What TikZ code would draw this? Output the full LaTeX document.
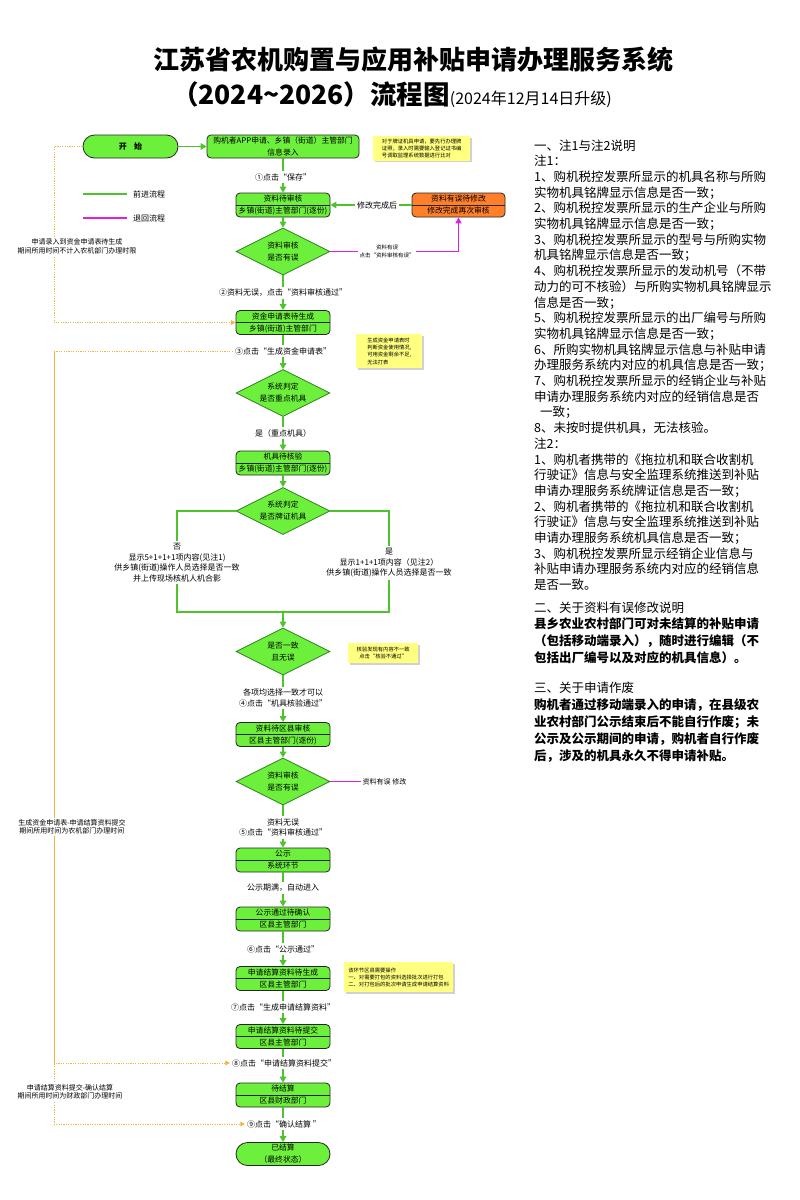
\documentclass[tikz,border=0pt]{standalone}
\usepackage{fontspec}
\setmainfont{Noto Sans CJK SC}
\usetikzlibrary{shapes.geometric,arrows.meta,calc,shadows}
\definecolor{nfill}{HTML}{6CF03C}
\definecolor{dgreen}{HTML}{2F7D1F}
\definecolor{fwdc}{HTML}{4DC42B}
\definecolor{magc}{HTML}{E020E0}
\definecolor{orgc}{HTML}{FF7F2A}
\definecolor{notec}{HTML}{FFFF80}
\definecolor{dotc}{HTML}{F4B23E}
\begin{document}
\begin{tikzpicture}[x=1pt,y=-1pt,
  box/.style={draw=black!85, line width=0.8pt, fill=nfill, rounded corners=4pt, minimum width=94pt, minimum height=24pt, inner sep=0pt, align=center, font=\fontsize{7.8}{12}\selectfont},
  pill/.style={box, rounded corners=11.5pt, minimum height=23pt},
  dia/.style={diamond, aspect=2, draw=dgreen, line width=0.8pt, fill=nfill, minimum width=94pt, minimum height=47pt, inner sep=0pt, align=center, font=\fontsize{7.8}{12}\selectfont},
  lab/.style={font=\fontsize{8}{10.5}\selectfont, align=center, inner sep=2pt},
  slab/.style={font=\fontsize{7}{8.5}\selectfont, align=center, inner sep=1.5pt},
  tiny/.style={font=\fontsize{5.5}{8.5}\selectfont, align=center, inner sep=1.5pt},
  note/.style={fill=notec, anchor=north west, inner sep=2.5pt, align=left, font=\fontsize{5.3}{7.2}\selectfont, drop shadow={shadow xshift=1.5pt, shadow yshift=-1.5pt, fill=black!18, opacity=1}},
  fwd/.style={draw=fwdc, line width=1.5pt, -{Triangle[width=6.5pt,length=6pt]}},
  fwdline/.style={draw=fwdc, line width=1.5pt},
  back/.style={draw=magc, line width=1.2pt, -{Triangle[width=6pt,length=6pt]}},
  backline/.style={draw=magc, line width=1.2pt},
  dot/.style={draw=dotc, line width=0.7pt, dash pattern=on 1.2pt off 1.2pt},
  dotarr/.style={dot, -{Triangle[width=4.5pt,length=4.5pt]}},
  rt/.style={font=\fontsize{12.5}{15}\selectfont, inner sep=0pt, anchor=base west},
  rtb/.style={rt, font=\fontsize{12.5}{15}\selectfont\bfseries}
]
\useasboundingbox (0,0) rectangle (800,1200);
\fill[white] (0,0) rectangle (800,1200);

% title
\node[font=\fontsize{26}{30}\selectfont\bfseries, inner sep=0pt] (title1) at (413,60) {江苏省农机购置与应用补贴申请办理服务系统};
\node[font=\fontsize{26.5}{30}\selectfont\bfseries, inner sep=0pt] (title2) at (392,95) {（2024\textasciitilde 2026）流程图{\fontsize{16}{18}\selectfont\mdseries (2024年12月14日升级)}};

% legend
\coordinate (lga) at (83,194); \coordinate (lgb) at (127,194);
\draw[fwdline] (lga) -- (lgb);
\node[lab, anchor=west] (lgt1) at (131,194) {前进流程};
\coordinate (lgc) at (83,218); \coordinate (lgd) at (127,218);
\draw[backline] (lgc) -- (lgd);
\node[lab, anchor=west] (lgt2) at (131,218) {退回流程};

% flow nodes
\node[pill, minimum width=95pt, font=\fontsize{8}{12}\selectfont\bfseries] (start) at (130.5,146.5) {开\hspace{0.9em}始};
\node[box, minimum width=152pt, minimum height=23pt] (b1) at (283,146.5) {购机者APP申请、乡镇（街道）主管部门\\信息录入};
\node[note, minimum width=97pt, minimum height=22pt] (n1) at (373,136) {对于牌证机具申请，要先行办理牌\\证照，录入时需要输入登记证书编\\号调取监理系统数据进行比对};

\node[box] (b2) at (283,205) {资料待审核\\乡镇(街道)主管部门(逐份)};
\draw[black!85, line width=0.8pt] (b2.west) -- (b2.east);
\node[box, fill=orgc, minimum width=93pt] (o1) at (458.5,205) {资料有误待修改\\修改完成再次审核};
\draw[black!85, line width=0.8pt] (o1.west) -- (o1.east);

\node[dia] (d1) at (283,251.5) {资料审核\\是否有误};

\node[box] (b3) at (283,322.5) {资金申请表待生成\\乡镇(街道)主管部门};
\draw[black!85, line width=0.8pt] (b3.west) -- (b3.east);
\node[note, minimum width=66pt, minimum height=34pt] (n2) at (356,334) {生成资金申请表时\\判断资金使用情况,\\可用资金剩余不足,\\无法打表};

\node[dia] (d2) at (283,393) {系统判定\\是否重点机具};
\node[box] (b4) at (283,463) {机具待核验\\乡镇(街道)主管部门(逐份)};
\draw[black!85, line width=0.8pt] (b4.west) -- (b4.east);
\node[dia] (d3) at (283,511) {系统判定\\是否牌证机具};
\node[dia] (d4) at (283,651.5) {是否一致\\且无误};
\node[note, minimum width=70pt, minimum height=20pt, align=center] (n3) at (348,643) {核验发现有内容不一致\\点击“核验不通过”};

\node[box] (b5) at (283,734.5) {资料待区县审核\\区县主管部门(逐份)};
\draw[black!85, line width=0.8pt] (b5.west) -- (b5.east);
\node[dia] (d5) at (283,781.5) {资料审核\\是否有误};
\node[box] (b6) at (283,860) {公示\\系统环节};
\draw[black!85, line width=0.8pt] (b6.west) -- (b6.east);
\node[box] (b7) at (283,919) {公示通过待确认\\区县主管部门};
\draw[black!85, line width=0.8pt] (b7.west) -- (b7.east);
\node[box] (b8) at (283,978.5) {申请结算资料待生成\\区县主管部门};
\draw[black!85, line width=0.8pt] (b8.west) -- (b8.east);
\node[note, minimum width=109pt, minimum height=30pt] (n4) at (344,962) {该环节区县需要操作\\一、对需要打包的资料选择批次进行打包\\二、对打包后的批次申请生成申请结算资料};
\node[box] (b9) at (283,1036.5) {申请结算资料待提交\\区县主管部门};
\draw[black!85, line width=0.8pt] (b9.west) -- (b9.east);
\node[box] (b10) at (283,1095) {待结算\\区县财政部门};
\draw[black!85, line width=0.8pt] (b10.west) -- (b10.east);
\node[pill, minimum width=94pt] (end) at (283,1154) {已结算\\（最终状态）};

% labels
\node[lab] (l1) at (283,177) {①点击“保存”};
\node[lab] (l2) at (283,293) {②资料无误，点击“资料审核通过”};
\node[lab] (l3) at (283,351) {③点击“生成资金申请表”};
\node[lab] (l4) at (283,433) {是（重点机具）};
\node[lab] (lL) at (177,562.5) {否\\显示5+1+1+1项内容(见注1)\\供乡镇(街道)操作人员选择是否一致\\并上传现场核机人机合影};
\node[lab] (lR) at (389,563) {是\\显示1+1+1项内容（见注2）\\供乡镇(街道)操作人员选择是否一致};
\node[lab] (l5) at (283,698) {各项均选择一致才可以\\④点击“机具核验通过”};
\node[lab] (l6) at (283,827.5) {资料无误\\⑤点击“资料审核通过”};
\node[lab] (l7) at (283,888) {公示期满，自动进入};
\node[lab] (l8) at (283,949) {⑥点击“公示通过”};
\node[lab] (l9) at (283,1007) {⑦点击“生成申请结算资料”};
\node[lab] (l10) at (284,1063) {⑧点击“申请结算资料提交”};
\node[lab] (l11) at (284,1124) {⑨点击“确认结算 ”};
\node[lab] (lg) at (377,205) {修改完成后};
\node[tiny] (lm) at (387,251.5) {资料有误\\点击“资料审核有误”};
\node[slab, anchor=west] (lm2) at (361,781.5) {资料有误 修改};

% forward connectors
\draw[fwd] (start.east) -- (b1.west);
\draw[fwd] (b1.south) -- (l1.north) (l1.south) -- (b2.north);
\draw[fwd] (o1.west) -- (lg.east) (lg.west) -- (b2.east);
\draw[fwd] (b2.south) -- (d1.north);
\draw[fwd] (d1.south) -- (l2.north) (l2.south) -- (b3.north);
\draw[fwd] (b3.south) -- (l3.north) (l3.south) -- (d2.north);
\draw[fwd] (d2.south) -- (l4.north) (l4.south) -- (b4.north);
\draw[fwd] (b4.south) -- (d3.north);
\coordinate (join) at (283,612);
\draw[fwdline] (d3.west) -| (lL.north) (lL.south) |- (join);
\draw[fwdline] (d3.east) -| (lR.north) (lR.south) |- (join);
\draw[fwd] (join) -- (d4.north);
\draw[fwd] (d4.south) -- (l5.north) (l5.south) -- (b5.north);
\draw[fwd] (b5.south) -- (d5.north);
\draw[fwd] (d5.south) -- (l6.north) (l6.south) -- (b6.north);
\draw[fwd] (b6.south) -- (l7.north) (l7.south) -- (b7.north);
\draw[fwd] (b7.south) -- (l8.north) (l8.south) -- (b8.north);
\draw[fwd] (b8.south) -- (l9.north) (l9.south) -- (b9.north);
\draw[fwd] (b9.south) -- (l10.north -| b9.south) (l10.south -| b9.south) -- (b10.north);
\draw[fwd] (b10.south) -- (l11.north -| b10.south) (l11.south -| b10.south) -- (end.north);

% back connectors
\draw[back] (d1.east) -- (lm.west) (lm.east) -- (lm.east -| o1.south) -- (o1.south);
\draw[backline] (d5.east) -- (lm2.west);

% dotted brackets
\coordinate (c1) at (54,146.5);
\draw[dotarr] (start.west) -- (c1) |- (b3.west);
\coordinate (c2) at (54,351);
\draw[dotarr] (l3.west) -- (c2) |- (l10.west);
\draw[dotarr] (c2) |- (l11.west);

% left texts
\node[slab, fill=white] (t1) at (77,246.5) {申请录入到资金申请表待生成\\期间所用时间不计入农机部门办理时限};
\node[slab, fill=white] (t2) at (72,827) {生成资金申请表-申请结算资料提交\\期间所用时间为农机部门办理时间};
\node[slab, fill=white] (t3) at (70,1092) {申请结算资料提交-确认结算\\期间所用时间为财政部门办理时间};

% right text
\foreach \t [count=\i] in {{一、注1与注2说明},{注1：},{1、购机税控发票所显示的机具名称与所购},{实物机具铭牌显示信息是否一致；},{2、购机税控发票所显示的生产企业与所购},{实物机具铭牌显示信息是否一致；},{3、购机税控发票所显示的型号与所购实物},{机具铭牌显示信息是否一致；},{4、购机税控发票所显示的发动机号（不带},{动力的可不核验）与所购实物机具铭牌显示},{信息是否一致；},{5、购机税控发票所显示的出厂编号与所购},{实物机具铭牌显示信息是否一致；},{6、所购实物机具铭牌显示信息与补贴申请},{办理服务系统内对应的机具信息是否一致；},{7、购机税控发票所显示的经销企业与补贴},{申请办理服务系统内对应的经销信息是否},{\hspace{6pt}一致；},{8、未按时提供机具，无法核验。},{注2：},{1、购机者携带的《拖拉机和联合收割机},{行驶证》信息与安全监理系统推送到补贴},{申请办理服务系统牌证信息是否一致；},{2、购机者携带的《拖拉机和联合收割机},{行驶证》信息与安全监理系统推送到补贴},{申请办理服务系统机具信息是否一致；},{3、购机税控发票所显示经销企业信息与},{补贴申请办理服务系统内对应的经销信息},{是否一致。}}
  \node[rt] (ra\i) at (534,{150+15.7*(\i-1)}) {\t};
\node[rt] (rb0) at (534,612) {二、关于资料有误修改说明};
\foreach \t [count=\i] in {{县乡农业农村部门可对未结算的补贴申请},{（包括移动端录入），随时进行编辑（不},{包括出厂编号以及对应的机具信息）。}}
  \node[rtb] (rb\i) at (534,{612+16.7*\i}) {\t};
\node[rt] (rc0) at (534,692) {三、关于申请作废};
\foreach \t [count=\i] in {{购机者通过移动端录入的申请，在县级农},{业农村部门公示结束后不能自行作废；未},{公示及公示期间的申请，购机者自行作废},{后，涉及的机具永久不得申请补贴。}}
  \node[rtb] (rc\i) at (534,{692+17*\i}) {\t};
\end{tikzpicture}
\end{document}
